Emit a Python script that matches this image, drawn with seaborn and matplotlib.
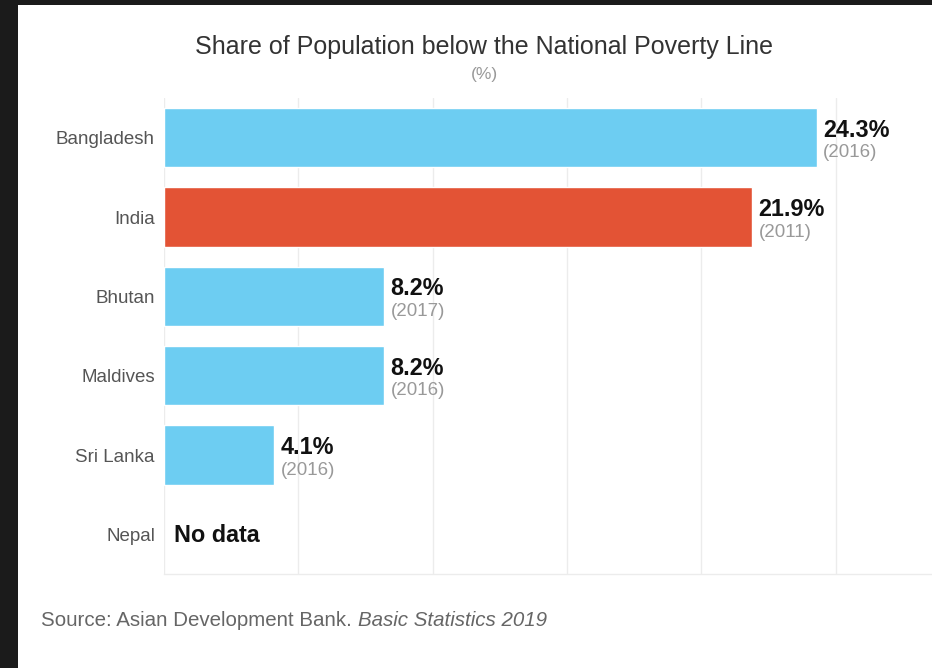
import numpy as np
import pandas as pd
import matplotlib
matplotlib.use("Agg")
import matplotlib.pyplot as plt
import seaborn as sns
from matplotlib.patches import Rectangle

countries = ["Bangladesh", "India", "Bhutan", "Maldives", "Sri Lanka", "Nepal"]
values = [24.3, 21.9, 8.2, 8.2, 4.1, np.nan]
years = ["2016", "2011", "2017", "2016", "2016", None]
highlight = ["other", "india", "other", "other", "other", "other"]

df = pd.DataFrame({"country": countries, "value": values, "group": highlight})

sns.set_theme(style="white")
plt.rcParams['font.family'] = ['Liberation Sans', 'DejaVu Sans']

fig = plt.figure(figsize=(9.32, 6.68), dpi=100)
fig.patch.set_facecolor("#1b1b1b")
W, H = 932, 668
fig.patches.append(Rectangle((18 / W, 0), 1 - 18 / W, 1 - 5 / H, transform=fig.transFigure,
                             facecolor="white", edgecolor="none", zorder=-5))

ax = fig.add_axes([164 / W, (H - 574) / H, (932 - 164) / W, (574 - 98) / H])
ax.set_facecolor("white")
ax.set_zorder(2)

sns.barplot(data=df, y="country", x="value", hue="group", order=countries,
            palette={"other": "#6dcdf2", "india": "#e35335"}, orient="h",
            width=0.75, legend=False, ax=ax, saturation=1, errorbar=None)

ax.set_xlim(0, 28.58)
ax.set_ylim(5.5, -0.5)
ax.set_xticks([0, 5, 10, 15, 20, 25])
ax.set_xticklabels([])
ax.grid(axis="x", color="#ececec", linewidth=1)
ax.set_axisbelow(True)
ax.tick_params(axis="both", length=0)
ax.tick_params(axis="y", labelsize=13.5, labelcolor="#555555", pad=6.5)
ax.set_xlabel("")
ax.set_ylabel("")
for s in ["top", "right", "left"]:
    ax.spines[s].set_visible(False)
ax.spines["bottom"].set_color("#ececec")
ax.spines["bottom"].set_linewidth(1)

for i, (v, yr) in enumerate(zip(values, years)):
    if np.isnan(v):
        ax.annotate("No data", (0, i), xytext=(7, -1), textcoords="offset points",
                    ha="left", va="center", fontsize=16.8, fontweight="bold", color="#111111")
        continue
    ax.annotate(f"{v}%", (v, i), xytext=(4.5, 5.5), textcoords="offset points",
                ha="left", va="center", fontsize=16.8, fontweight="bold", color="#111111")
    ax.annotate(f"({yr})", (v, i), xytext=(4.5, -11), textcoords="offset points",
                ha="left", va="center", fontsize=13.5, color="#999999")

fig.text(484 / W, 1 - 47 / H, "Share of Population below the National Poverty Line",
         ha="center", va="center", fontsize=18, color="#333333")
fig.text(484 / W, 1 - 74 / H, "(%)", ha="center", va="center", fontsize=12.5, color="#999999")

fig.text(41 / W, 1 - 621 / H, "Source: Asian Development Bank. ", ha="left", va="center",
         fontsize=14.8, color="#666666")
fig.canvas.draw()
t = fig.texts[-1]
bb = t.get_window_extent()
fig.text(bb.x1 / W, 1 - 621 / H, "Basic Statistics 2019", ha="left", va="center",
         fontsize=14.8, color="#666666", style="italic")

fig.savefig("out.png", dpi=100, facecolor=fig.get_facecolor())
